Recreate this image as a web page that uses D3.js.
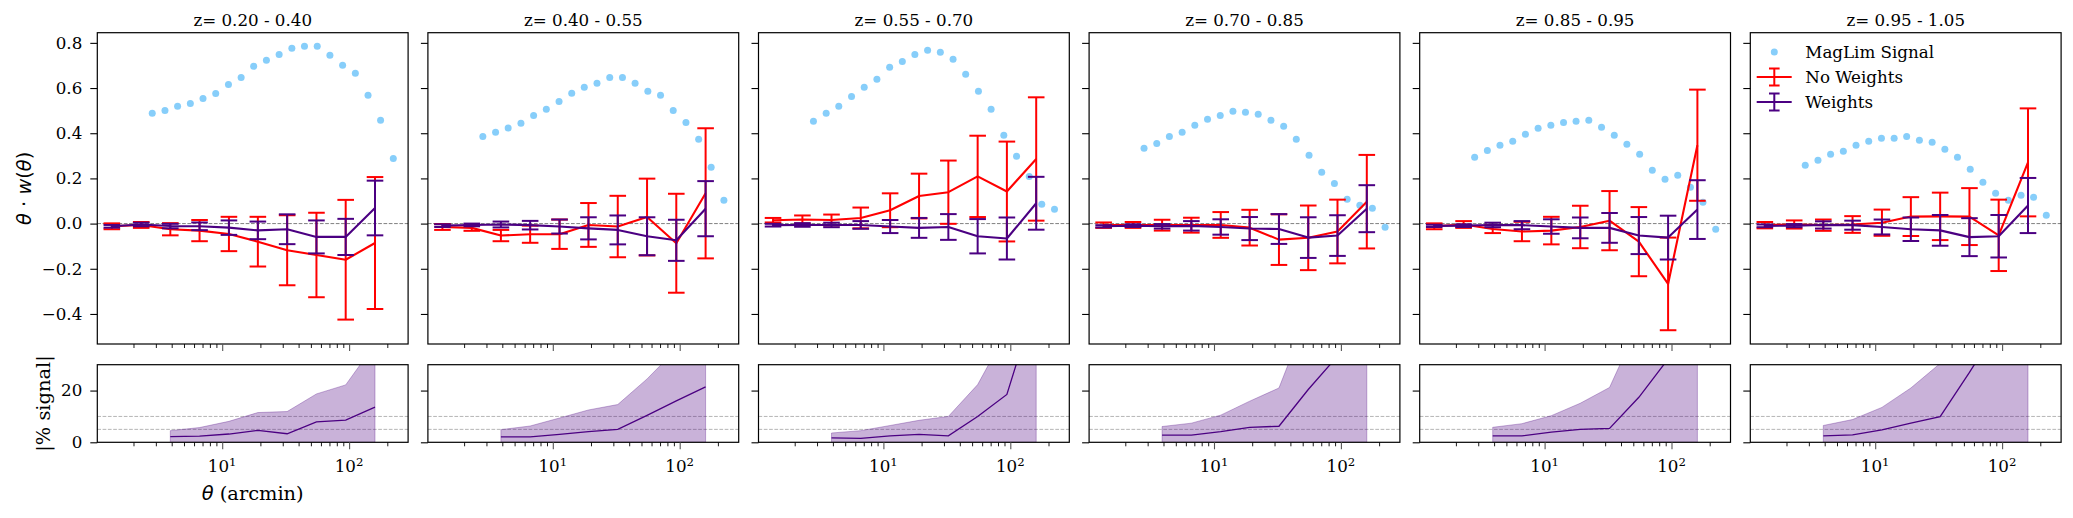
<!DOCTYPE html>
<html>
<head>
<meta charset="utf-8">
<script src="https://cdn.jsdelivr.net/npm/d3@7"></script>
<style>
  body { margin: 0; background: #fff; }
  svg text { font-family: "DejaVu Serif", "Liberation Serif", serif; fill: #000; }
</style>
</head>
<body>
<div id="chart"></div>
<script>
// redshift bins (one panel each)
var zBins = ["z= 0.20 - 0.40", "z= 0.40 - 0.55", "z= 0.55 - 0.70",
             "z= 0.70 - 0.85", "z= 0.85 - 0.95", "z= 0.95 - 1.05"];

// angular bins (arcmin)
var thetaSignal = [2.81, 3.54, 4.45, 5.61, 7.06, 8.89, 11.2, 14.1, 17.7, 22.3,
                   28.1, 35.4, 44.5, 56.1, 70.6, 88.9, 112, 141, 177, 223];
var thetaBins = [1.35, 2.30, 3.90, 6.63, 11.3, 19.1, 32.5, 55.3, 94.0, 160];
var thetaPct = thetaBins.slice(2);

// theta * w(theta) of the MagLim signal
var signal = [
  [0.488, 0.501, 0.519, 0.532, 0.554, 0.576, 0.616, 0.647, 0.696, 0.723, 0.749, 0.776, 0.785, 0.785, 0.745, 0.701, 0.665, 0.568, 0.458, 0.288],
  [0.386, 0.404, 0.423, 0.444, 0.479, 0.506, 0.541, 0.577, 0.603, 0.621, 0.647, 0.647, 0.621, 0.586, 0.568, 0.501, 0.448, 0.373, 0.249, 0.103],
  [0.453, 0.488, 0.519, 0.563, 0.603, 0.639, 0.692, 0.718, 0.749, 0.767, 0.758, 0.727, 0.661, 0.586, 0.506, 0.391, 0.298, 0.209, 0.086, 0.063],
  [0.333, 0.355, 0.386, 0.404, 0.435, 0.462, 0.479, 0.497, 0.493, 0.484, 0.457, 0.431, 0.373, 0.302, 0.227, 0.178, 0.108, 0.081, 0.068, -0.016],
  [0.294, 0.324, 0.347, 0.364, 0.395, 0.422, 0.435, 0.448, 0.453, 0.457, 0.426, 0.391, 0.351, 0.307, 0.236, 0.196, 0.214, 0.161, 0.094, -0.025],
  [0.258, 0.280, 0.307, 0.320, 0.347, 0.364, 0.378, 0.378, 0.386, 0.369, 0.360, 0.329, 0.294, 0.240, 0.183, 0.134, 0.103, 0.125, 0.117, 0.037]
];

// systematics, no weights
var noWeights = [
  [-0.012, -0.006, -0.025, -0.031, -0.046, -0.080, -0.118, -0.139, -0.160, -0.086],
  [-0.015, -0.019, -0.053, -0.047, -0.047, -0.006, -0.013, 0.029, -0.087, 0.134],
  [0.015, 0.018, 0.016, 0.025, 0.059, 0.122, 0.139, 0.209, 0.142, 0.286],
  [-0.007, -0.006, -0.007, -0.007, -0.006, -0.018, -0.071, -0.063, -0.035, 0.097],
  [-0.012, -0.004, -0.024, -0.035, -0.031, -0.015, 0.013, -0.080, -0.267, 0.347],
  [-0.007, -0.004, -0.007, -0.004, 0.004, 0.031, 0.032, 0.031, -0.052, 0.271]
];
var noWeightsErr = [
  [0.013, 0.013, 0.027, 0.047, 0.076, 0.110, 0.155, 0.187, 0.265, 0.292],
  [0.013, 0.013, 0.025, 0.038, 0.065, 0.097, 0.136, 0.170, 0.219, 0.288],
  [0.010, 0.018, 0.024, 0.046, 0.075, 0.099, 0.140, 0.180, 0.221, 0.273],
  [0.012, 0.013, 0.024, 0.033, 0.057, 0.079, 0.112, 0.143, 0.141, 0.207],
  [0.013, 0.015, 0.018, 0.043, 0.061, 0.094, 0.131, 0.153, 0.205, 0.246],
  [0.014, 0.018, 0.025, 0.037, 0.058, 0.086, 0.105, 0.126, 0.158, 0.239]
];

// systematics, with weights
var withWeights = [
  [-0.012, -0.004, -0.011, -0.012, -0.018, -0.030, -0.025, -0.059, -0.059, 0.069],
  [-0.009, -0.006, -0.004, -0.007, -0.013, -0.021, -0.028, -0.056, -0.074, 0.066],
  [-0.007, -0.006, -0.006, -0.006, -0.013, -0.019, -0.015, -0.056, -0.066, 0.090],
  [-0.012, -0.009, -0.012, -0.010, -0.015, -0.022, -0.024, -0.062, -0.053, 0.066],
  [-0.010, -0.009, -0.006, -0.007, -0.013, -0.019, -0.019, -0.053, -0.062, 0.062],
  [-0.010, -0.009, -0.006, -0.007, -0.015, -0.025, -0.030, -0.060, -0.056, 0.080]
];
var withWeightsErr = [
  [0.006, 0.008, 0.010, 0.017, 0.032, 0.039, 0.066, 0.073, 0.080, 0.121],
  [0.006, 0.006, 0.013, 0.019, 0.031, 0.049, 0.064, 0.084, 0.091, 0.122],
  [0.006, 0.008, 0.010, 0.017, 0.029, 0.044, 0.057, 0.076, 0.093, 0.117],
  [0.005, 0.006, 0.010, 0.021, 0.034, 0.051, 0.066, 0.090, 0.090, 0.104],
  [0.005, 0.006, 0.010, 0.018, 0.032, 0.046, 0.066, 0.082, 0.097, 0.130],
  [0.006, 0.007, 0.016, 0.020, 0.033, 0.052, 0.068, 0.084, 0.094, 0.122]
];

// |% signal| of the weighted residual and its upper band
var pctSignal = [
  [2.2, 2.4, 3.2, 4.6, 3.3, 7.9, 8.6, 13.6],
  [2.1, 2.1, 3.1, 4.1, 5.0, 10.4, 16.0, 21.4],
  [1.7, 1.5, 2.5, 3.1, 2.5, 10.0, 18.5, 55],
  [2.8, 2.8, 4.1, 5.8, 6.2, 20.4, 33.3, 45],
  [2.5, 2.5, 3.9, 5.0, 5.4, 17.4, 32.2, 47],
  [2.5, 2.9, 4.8, 7.4, 9.9, 27, 45, 55]
];
var pctSignalHi = [
  [4.5, 5.7, 8.1, 11.5, 11.9, 18.7, 22.2, 38],
  [4.9, 6.3, 9.4, 12.5, 14.6, 24.5, 36, 45],
  [3.6, 4.5, 6.5, 8.5, 10.0, 22.3, 43, 60],
  [6.1, 7.4, 10.5, 15.9, 21.0, 50, 60, 70],
  [5.8, 7.2, 10.3, 15.1, 21.2, 46, 60, 60],
  [6.5, 8.8, 13.5, 21.0, 30.5, 50, 60, 60]
];

var yTicks = [-0.4, -0.2, 0.0, 0.2, 0.4, 0.6, 0.8];
var yTicksPct = [0, 20];
var xMajor = [10, 100];
var xMinor = [2, 3, 4, 5, 6, 7, 8, 9, 20, 30, 40, 50, 60, 70, 80, 90, 200];

// Define SVG area and panel geometry
var svgWidth = 2073;
var svgHeight = 518;
var panelLeft = 97.3;
var panelStep = 330.6;
var panelWidth = 310.8;
var topY = 32.7, topHeight = 311.3;
var botY = 364.7, botHeight = 77.6;

var colorSignal = "#87cefa";
var colorNoW = "#ff0000";
var colorW = "#4b0082";
var fontSize = 16.7;
var labelSize = 19.4;
var serif = "'DejaVu Serif', 'Liberation Serif', serif";
var sans = "'DejaVu Sans', 'Liberation Sans', sans-serif";

var svg = d3.select("#chart")
  .append("svg")
  .attr("width", svgWidth)
  .attr("height", svgHeight);

svg.append("defs").append("clipPath")
  .attr("id", "clipBot")
  .append("rect")
  .attr("width", panelWidth)
  .attr("height", botHeight);

var x = d3.scaleLog().domain([1.037, 291.7]).range([0, panelWidth]);
var y = d3.scaleLinear().domain([-0.533, 0.845]).range([topHeight, 0]);
var yPct = d3.scaleLinear().domain([0, 30]).range([botHeight, 0]);

function drawXTicks(g, h) {
  g.append("g")
    .attr("transform", `translate(0, ${h})`)
    .call(d3.axisBottom(x).tickValues(xMinor).tickSize(4).tickFormat(""))
    .call(a => a.select(".domain").remove())
    .selectAll("line").attr("stroke-width", 0.9);
  g.append("g")
    .attr("transform", `translate(0, ${h})`)
    .call(d3.axisBottom(x).tickValues(xMajor).tickSize(7).tickFormat(""))
    .call(a => a.select(".domain").remove())
    .selectAll("line").attr("stroke", "#555").attr("stroke-width", 1.1);
}

function drawYTicks(g, scale, ticks, showLabels, fmt) {
  var axis = g.append("g")
    .call(d3.axisLeft(scale).tickValues(ticks).tickSize(7).tickPadding(8)
      .tickFormat(showLabels ? fmt : ""));
  axis.select(".domain").remove();
  axis.selectAll("line").attr("stroke-width", 1.1);
  axis.selectAll("text")
    .style("font-family", serif)
    .style("font-size", fontSize + "px");
}

function drawSeries(g, vals, errs, color) {
  var line = d3.line()
    .x((d, i) => x(thetaBins[i]))
    .y(d => y(d));
  var bars = g.append("g");
  thetaBins.forEach(function(t, i) {
    var cx = x(t);
    var lo = y(vals[i] - errs[i]);
    var hi = y(vals[i] + errs[i]);
    bars.append("line")
      .attr("x1", cx).attr("x2", cx).attr("y1", lo).attr("y2", hi)
      .attr("stroke", color).attr("stroke-width", 2);
    [lo, hi].forEach(function(cy) {
      bars.append("line")
        .attr("x1", cx - 8.3).attr("x2", cx + 8.3).attr("y1", cy).attr("y2", cy)
        .attr("stroke", color).attr("stroke-width", 2);
    });
  });
  g.append("path")
    .datum(vals)
    .attr("d", line)
    .attr("fill", "none")
    .attr("stroke", color)
    .attr("stroke-width", 2.1)
    .attr("stroke-linejoin", "round");
}

function spine(g, h) {
  g.append("rect")
    .attr("width", panelWidth)
    .attr("height", h)
    .attr("fill", "none")
    .attr("stroke", "#000")
    .attr("stroke-width", 1.2);
}

function serifText(sel, size) {
  return sel.style("font-family", serif).style("font-size", (size || fontSize) + "px");
}

zBins.forEach(function(label, p) {
  var left = panelLeft + p * panelStep;

  // ----- top panel -----
  var g = svg.append("g").attr("transform", `translate(${left}, ${topY})`);

  g.append("line")
    .attr("x1", 0).attr("x2", panelWidth)
    .attr("y1", y(0)).attr("y2", y(0))
    .attr("stroke", "#808080").attr("stroke-width", 1)
    .attr("stroke-dasharray", "3.7,1.6");

  g.append("g").selectAll("circle")
    .data(signal[p])
    .enter()
    .append("circle")
    .attr("cx", (d, i) => x(thetaSignal[i]))
    .attr("cy", d => y(d))
    .attr("r", 3.5)
    .attr("fill", colorSignal);

  drawSeries(g, noWeights[p], noWeightsErr[p], colorNoW);
  drawSeries(g, withWeights[p], withWeightsErr[p], colorW);

  spine(g, topHeight);
  drawXTicks(g, topHeight);
  drawYTicks(g, y, yTicks, p === 0, d3.format(".1f"));

  serifText(g.append("text"))
    .attr("x", panelWidth / 2)
    .attr("y", -6.5)
    .attr("text-anchor", "middle")
    .text(label);

  // ----- bottom panel -----
  var gb = svg.append("g").attr("transform", `translate(${left}, ${botY})`);

  [5, 10].forEach(function(v) {
    gb.append("line")
      .attr("x1", 0).attr("x2", panelWidth)
      .attr("y1", yPct(v)).attr("y2", yPct(v))
      .attr("stroke", "#b5b5b5").attr("stroke-width", 1)
      .attr("stroke-dasharray", "3.7,1.6");
  });

  var band = d3.area()
    .x((d, i) => x(thetaPct[i]))
    .y0(yPct(0))
    .y1(d => yPct(d));

  gb.append("path")
    .datum(pctSignalHi[p])
    .attr("d", band)
    .attr("clip-path", "url(#clipBot)")
    .attr("fill", colorW)
    .attr("fill-opacity", 0.3)
    .attr("stroke", colorW)
    .attr("stroke-opacity", 0.3)
    .attr("stroke-width", 1);

  gb.append("path")
    .datum(pctSignal[p])
    .attr("d", d3.line().x((d, i) => x(thetaPct[i])).y(d => yPct(d)))
    .attr("clip-path", "url(#clipBot)")
    .attr("fill", "none")
    .attr("stroke", colorW)
    .attr("stroke-width", 1.3);

  spine(gb, botHeight);
  drawXTicks(gb, botHeight);
  drawYTicks(gb, yPct, yTicksPct, p === 0, d3.format("d"));

  // x tick labels 10^1, 10^2
  xMajor.forEach(function(t) {
    var tx = serifText(gb.append("text"))
      .attr("x", x(t))
      .attr("y", botHeight + 30.2)
      .attr("text-anchor", "middle");
    tx.append("tspan").text("10");
    tx.append("tspan")
      .attr("dy", -6.8)
      .style("font-size", (fontSize * 0.7) + "px")
      .text(Math.round(Math.log10(t)));
  });

  if (p === 0) {
    var xl = serifText(gb.append("text"), labelSize)
      .attr("x", panelWidth / 2)
      .attr("y", botHeight + 57.5)
      .attr("text-anchor", "middle");
    xl.append("tspan").style("font-family", sans).style("font-style", "italic").text("θ");
    xl.append("tspan").text(" (arcmin)");

    var yl = g.append("text")
      .attr("transform", `translate(${31 - left}, ${topHeight / 2}) rotate(-90)`)
      .attr("text-anchor", "middle")
      .style("font-family", sans)
      .style("font-size", labelSize + "px");
    yl.append("tspan").style("font-style", "italic").text("θ");
    yl.append("tspan").text(" · ");
    yl.append("tspan").style("font-style", "italic").text("w");
    yl.append("tspan").text("(");
    yl.append("tspan").style("font-style", "italic").text("θ");
    yl.append("tspan").text(")");

    serifText(gb.append("text"), labelSize)
      .attr("transform", `translate(${50 - left}, ${botHeight / 2}) rotate(-90)`)
      .attr("text-anchor", "middle")
      .text("|% signal|");
  }

  // legend in the last panel
  if (p === zBins.length - 1) {
    var lg = g.append("g");
    var items = [
      { name: "MagLim Signal", kind: "dot", color: colorSignal },
      { name: "No Weights", kind: "err", color: colorNoW },
      { name: "Weights", kind: "err", color: colorW }
    ];
    items.forEach(function(it, k) {
      var cy = 19.3 + k * 25;
      if (it.kind === "dot") {
        lg.append("circle").attr("cx", 24).attr("cy", cy).attr("r", 3.5).attr("fill", it.color);
      } else {
        lg.append("line").attr("x1", 6.4).attr("x2", 41.4).attr("y1", cy).attr("y2", cy)
          .attr("stroke", it.color).attr("stroke-width", 2.1);
        lg.append("line").attr("x1", 24).attr("x2", 24).attr("y1", cy - 8.5).attr("y2", cy + 8.5)
          .attr("stroke", it.color).attr("stroke-width", 2);
        [cy - 8.5, cy + 8.5].forEach(function(c) {
          lg.append("line").attr("x1", 18.7).attr("x2", 29.3).attr("y1", c).attr("y2", c)
            .attr("stroke", it.color).attr("stroke-width", 2);
        });
      }
      serifText(lg.append("text"))
        .attr("x", 55)
        .attr("y", cy + 5.6)
        .text(it.name);
    });
  }
});
</script>
</body>
</html>
